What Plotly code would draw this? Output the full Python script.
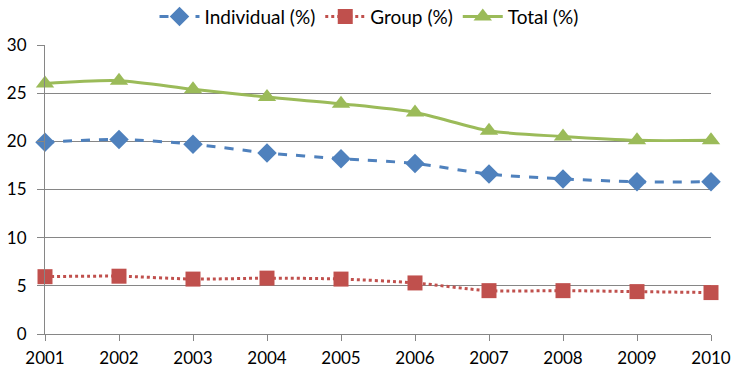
import plotly.graph_objects as go

years = [2001, 2002, 2003, 2004, 2005, 2006, 2007, 2008, 2009, 2010]
individual = [19.9, 20.2, 19.7, 18.8, 18.2, 17.7, 16.6, 16.1, 15.8, 15.8]
group = [5.95, 6.0, 5.7, 5.8, 5.7, 5.3, 4.5, 4.5, 4.4, 4.3]
total = [26.0, 26.3, 25.4, 24.6, 23.9, 23.0, 21.1, 20.5, 20.1, 20.1]
y_ticks = [0, 5, 10, 15, 20, 25, 30]

fig = go.Figure()
fig.add_trace(go.Scatter(
    x=years, y=individual, name="Individual (%)", mode="lines+markers",
    line=dict(color="#4F81BD", width=3, dash="dash", shape="spline", smoothing=0.8),
    marker=dict(symbol="diamond", size=15, color="#4F81BD"),
    cliponaxis=False))
fig.add_trace(go.Scatter(
    x=years, y=group, name="Group (%)", mode="lines+markers",
    line=dict(color="#C0504D", width=3, dash="dot", shape="spline", smoothing=0.8),
    marker=dict(symbol="square", size=15, color="#C0504D"),
    cliponaxis=False))
fig.add_trace(go.Scatter(
    x=years, y=total, name="Total (%)", mode="lines+markers",
    line=dict(color="#9BBB59", width=3, shape="spline", smoothing=0.8),
    marker=dict(symbol="triangle-up", size=16, color="#9BBB59"),
    cliponaxis=False))

fig.update_layout(
    width=738, height=371,
    margin=dict(l=45, r=27, t=45, b=37, autoexpand=False),
    paper_bgcolor="white", plot_bgcolor="white",
    font=dict(family="Lato, Open Sans, sans-serif", size=17, color="black"),
    legend=dict(orientation="h", x=0.5, xanchor="center", xref="container",
                y=0.955, yanchor="middle", yref="container",
                font=dict(size=19), itemwidth=40, tracegroupgap=0),
    showlegend=True,
)
fig.update_xaxes(
    range=[2001, 2010], tickmode="array", tickvals=years,
    ticktext=[str(y) for y in years], automargin=False,
    showgrid=False, showline=True, linecolor="#868686", linewidth=1,
    ticks="outside", ticklen=6, tickcolor="#868686", zeroline=False,
    ticklabelstandoff=3, tickfont=dict(size=17))
fig.update_yaxes(
    range=[0, 30], tickmode="array", tickvals=y_ticks, automargin=False,
    showgrid=True, gridcolor="#868686", gridwidth=1,
    showline=True, linecolor="#868686", linewidth=1,
    ticks="outside", ticklen=7, tickcolor="#868686", zeroline=False,
    ticklabelstandoff=7, tickfont=dict(size=17))

fig.write_html("out.html", config={"displayModeBar": False},
               post_script="document.body.style.margin='0';document.body.style.overflow='hidden';")
